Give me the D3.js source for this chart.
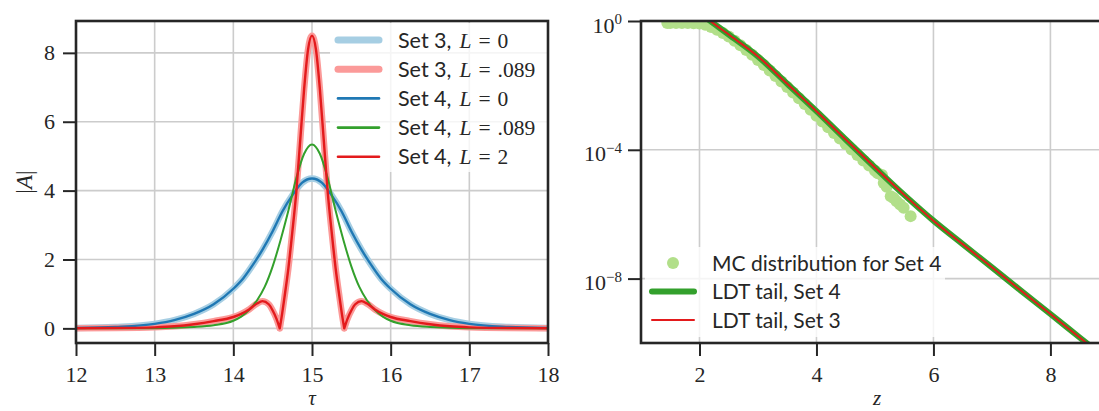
<!DOCTYPE html>
<html>
<head>
<meta charset="utf-8">
<script src="https://cdn.jsdelivr.net/npm/d3@7"></script>
<style>
  body { margin: 0; background: #fff; }
</style>
</head>
<body>
<svg id="fig" width="1099" height="411"></svg>
<script>
// ---------- left panel: pulse amplitude |A| versus tau ----------
const tauTicks = [12, 13, 14, 15, 16, 17, 18];
const ampTicks = [0, 2, 4, 6, 8];

// L = 0 profiles (Set 3 and Set 4 coincide)
const tauL0 = [12, 12.5, 13, 13.25, 13.5, 13.75, 14, 14.125, 14.25, 14.375, 14.5, 14.625, 14.75, 14.875, 15,
               15.125, 15.25, 15.375, 15.5, 15.625, 15.75, 15.875, 16, 16.25, 16.5, 16.75, 17, 17.5, 18];
const ampSet3L0 = [0.01, 0.04, 0.13, 0.24, 0.42, 0.70, 1.15, 1.45, 1.85, 2.30, 2.82, 3.40, 3.86, 4.23, 4.35,
                   4.23, 3.86, 3.40, 2.82, 2.30, 1.85, 1.45, 1.15, 0.70, 0.42, 0.24, 0.13, 0.04, 0.01];
const ampSet4L0 = [0.01, 0.04, 0.13, 0.24, 0.42, 0.70, 1.15, 1.45, 1.85, 2.30, 2.82, 3.40, 3.86, 4.23, 4.35,
                   4.23, 3.86, 3.40, 2.82, 2.30, 1.85, 1.45, 1.15, 0.70, 0.42, 0.24, 0.13, 0.04, 0.01];

// Set 4, L = .089
const tauSet4L089 = [12, 13, 13.5, 13.75, 14, 14.1, 14.2, 14.3, 14.4, 14.5, 14.6, 14.7, 14.8, 14.9, 15,
                     15.1, 15.2, 15.3, 15.4, 15.5, 15.6, 15.7, 15.8, 15.9, 16, 16.25, 16.5, 17, 18];
const ampSet4L089 = [0, 0.005, 0.04, 0.09, 0.22, 0.34, 0.53, 0.81, 1.21, 1.80, 2.56, 3.42, 4.36, 5.07, 5.34,
                     5.07, 4.36, 3.42, 2.56, 1.80, 1.21, 0.81, 0.53, 0.34, 0.22, 0.09, 0.04, 0.005, 0];

// Set 4, L = 2 and Set 3, L = .089 (coincide): central spike with two side lobes
const tauSpike = [12, 12.5, 13, 13.25, 13.5, 13.75, 14, 14.1, 14.2, 14.3, 14.37, 14.45, 14.5, 14.55, 14.59,
                  14.62, 14.65, 14.7, 14.75, 14.8, 14.85, 14.9, 14.95, 15,
                  15.05, 15.1, 15.15, 15.2, 15.25, 15.3, 15.35, 15.38, 15.41,
                  15.45, 15.5, 15.55, 15.63, 15.7, 15.8, 15.9, 16, 16.25, 16.5, 16.75, 17, 17.5, 18];
const ampSet3L089 = [0.005, 0.01, 0.03, 0.06, 0.12, 0.21, 0.33, 0.42, 0.55, 0.72, 0.79, 0.70, 0.52, 0.27, 0,
                     0.42, 0.90, 1.75, 2.80, 3.95, 5.45, 6.95, 8.10, 8.50,
                     8.10, 6.95, 5.45, 3.95, 2.80, 1.75, 0.90, 0.42, 0,
                     0.27, 0.52, 0.70, 0.79, 0.72, 0.55, 0.42, 0.33, 0.21, 0.12, 0.06, 0.03, 0.01, 0.005];
const ampSet4L2 = [0.005, 0.01, 0.03, 0.06, 0.12, 0.21, 0.33, 0.42, 0.55, 0.72, 0.79, 0.70, 0.52, 0.27, 0,
                   0.42, 0.90, 1.75, 2.80, 3.95, 5.45, 6.95, 8.10, 8.50,
                   8.10, 6.95, 5.45, 3.95, 2.80, 1.75, 0.90, 0.42, 0,
                   0.27, 0.52, 0.70, 0.79, 0.72, 0.55, 0.42, 0.33, 0.21, 0.12, 0.06, 0.03, 0.01, 0.005];

// ---------- right panel: tail probability versus z (log10 of probability) ----------
const zTicks = [2, 4, 6, 8];
const probTicks = [1, 1e-4, 1e-8];
const probTickExp = ["0", "\u22124", "\u22128"];

const mcZ = [1.45, 1.5, 1.6, 1.7, 1.8, 1.9, 2.0, 2.1, 2.2, 2.3, 2.4, 2.5, 2.6, 2.7, 2.8, 2.9, 3.0,
             3.1, 3.2, 3.3, 3.4, 3.5, 3.6, 3.7, 3.8, 3.9, 4.0, 4.1, 4.2, 4.3, 4.4, 4.5, 4.6, 4.7,
             4.8, 4.9, 5.0, 5.05, 5.12, 5.15, 5.2, 5.27, 5.32, 5.37, 5.43, 5.49, 5.61];
const mcLog10P = [-0.06, -0.06, -0.06, -0.06, -0.06, -0.07, -0.08, -0.12, -0.19, -0.27, -0.37, -0.48,
                  -0.61, -0.75, -0.90, -1.05, -1.21, -1.37, -1.54, -1.71, -1.88, -2.05, -2.22, -2.40,
                  -2.58, -2.76, -2.94, -3.12, -3.30, -3.48, -3.65, -3.82, -3.99, -4.16, -4.33, -4.49,
                  -4.65, -4.73, -4.78, -5.03, -5.15, -5.44, -5.50, -5.60, -5.70, -5.80, -6.06];

const ldtZ = [2.1, 2.2, 2.5, 3.0, 3.5, 4.0, 4.5, 5.0, 5.5, 6.0, 6.5, 7.0, 7.5, 8.0, 8.5, 8.7];
const ldtLog10Set4 = [0.12, -0.02, -0.42, -1.10, -1.95, -2.80, -3.68, -4.55, -5.40, -6.20, -6.93, -7.65,
                      -8.38, -9.10, -9.83, -10.12];
const ldtLog10Set3 = [0.12, -0.02, -0.42, -1.10, -1.95, -2.80, -3.68, -4.55, -5.40, -6.20, -6.93, -7.65,
                      -8.38, -9.10, -9.83, -10.12];

// ---------- drawing ----------
const ink = "#262626";
const gridCol = "#cccccc";
const serif = '"Liberation Serif", "DejaVu Serif", serif';
const sans = 'Lato, "Open Sans", "DejaVu Sans", sans-serif';
const tickFont = 22;

const svg = d3.select("#fig");
const defs = svg.append("defs");

const boxL = { x0: 76, x1: 548, y0: 21, y1: 343 };
const boxR = { x0: 641, x1: 1113, y0: 21, y1: 343 };

const xL = d3.scaleLinear().domain([12, 18]).range([boxL.x0, boxL.x1]);
const yL = d3.scaleLinear().domain([-0.425, 8.925]).range([boxL.y1, boxL.y0]);
const xR = d3.scaleLinear().domain([1, 9.07]).range([boxR.x0, boxR.x1]);
const yR = d3.scaleLog().domain([1e-10, 1]).range([boxR.y1, boxR.y0]);

function clipFor(id, b) {
  defs.append("clipPath").attr("id", id)
    .append("rect").attr("x", b.x0).attr("y", b.y0)
    .attr("width", b.x1 - b.x0).attr("height", b.y1 - b.y0);
}
clipFor("clipL", boxL);
clipFor("clipR", boxR);

function grid(g, b, xs, xVals, ys, yVals) {
  g.selectAll(".gx").data(xVals).join("line")
    .attr("class", "gx")
    .attr("x1", d => xs(d)).attr("x2", d => xs(d))
    .attr("y1", b.y0).attr("y2", b.y1)
    .attr("stroke", gridCol).attr("stroke-width", 1.6);
  g.selectAll(".gy").data(yVals).join("line")
    .attr("class", "gy")
    .attr("x1", b.x0).attr("x2", b.x1)
    .attr("y1", d => ys(d)).attr("y2", d => ys(d))
    .attr("stroke", gridCol).attr("stroke-width", 1.6);
}

function styleAxis(g) {
  g.select(".domain").remove();
  g.selectAll(".tick line").attr("stroke", ink).attr("stroke-width", 2);
  g.selectAll(".tick text")
    .attr("fill", ink)
    .style("font-family", serif)
    .style("font-size", tickFont + "px");
}

// split a profile at its interior zeros so the |A| cusps stay sharp
function zeroSplit(xs, ys) {
  const segs = [];
  let cur = [];
  xs.forEach((x, i) => {
    cur.push([x, ys[i]]);
    if (ys[i] === 0 && i > 0 && i < xs.length - 1) {
      segs.push(cur);
      cur = [[x, ys[i]]];
    }
  });
  segs.push(cur);
  return segs;
}

// ===== left panel =====
const gL = svg.append("g");
grid(gL.append("g"), boxL, xL, tauTicks, yL, ampTicks);

const lineL = d3.line().x(d => xL(d[0])).y(d => yL(d[1])).curve(d3.curveMonotoneX);
const seriesL = [
  { tau: tauL0, amp: ampSet3L0, color: "#a6cee3", width: 6.5 },
  { tau: tauSpike, amp: ampSet3L089, color: "#fb9a99", width: 6.5 },
  { tau: tauL0, amp: ampSet4L0, color: "#1f78b4", width: 2.4 },
  { tau: tauSet4L089, amp: ampSet4L089, color: "#33a02c", width: 2.0 },
  { tau: tauSpike, amp: ampSet4L2, color: "#e31a1c", width: 2.4 }
];
const dataL = gL.append("g").attr("clip-path", "url(#clipL)");
seriesL.forEach(s => {
  dataL.append("path")
    .attr("d", zeroSplit(s.tau, s.amp).map(seg => lineL(seg)).join(""))
    .attr("fill", "none")
    .attr("stroke", s.color)
    .attr("stroke-width", s.width)
    .attr("stroke-linejoin", "round")
    .attr("stroke-linecap", "round");
});

gL.append("g").attr("transform", `translate(0,${boxL.y1})`)
  .call(d3.axisBottom(xL).tickValues(tauTicks).tickSize(13).tickPadding(10).tickFormat(d3.format("d")))
  .call(styleAxis);
gL.append("g").attr("transform", `translate(${boxL.x0},0)`)
  .call(d3.axisLeft(yL).tickValues(ampTicks).tickSize(13).tickPadding(8).tickFormat(d3.format("d")))
  .call(styleAxis);

// left legend
const legL = gL.append("g");
legL.append("rect").attr("x", 330).attr("y", 23).attr("width", 217).attr("height", 149)
  .attr("fill", "#fff").attr("fill-opacity", 0.8);
const legRowsL = [
  { set: "Set 3,", val: "0", color: "#a6cee3", width: 7 },
  { set: "Set 3,", val: ".089", color: "#fb9a99", width: 7 },
  { set: "Set 4,", val: "0", color: "#1f78b4", width: 2.6 },
  { set: "Set 4,", val: ".089", color: "#33a02c", width: 2.6 },
  { set: "Set 4,", val: "2", color: "#e31a1c", width: 2.6 }
];
legRowsL.forEach((r, i) => {
  const cy = 40 + i * 29.2;
  legL.append("line").attr("x1", 338).attr("x2", 379).attr("y1", cy).attr("y2", cy)
    .attr("stroke", r.color).attr("stroke-width", r.width).attr("stroke-linecap", "round");
  const t = legL.append("text").attr("x", 398).attr("y", cy + 7.5).attr("fill", ink)
    .style("font-size", "21.5px");
  t.append("tspan").style("font-family", sans).text(r.set);
  t.append("tspan").attr("dx", 8).style("font-family", serif).style("font-style", "italic").text("L");
  t.append("tspan").attr("dx", 7).style("font-family", serif).text("=");
  t.append("tspan").attr("dx", 7).style("font-family", serif).text(r.val);
});

// left frame and axis labels
gL.append("rect").attr("x", boxL.x0).attr("y", boxL.y0)
  .attr("width", boxL.x1 - boxL.x0).attr("height", boxL.y1 - boxL.y0)
  .attr("fill", "none").attr("stroke", ink).attr("stroke-width", 2.6);

const yLab = gL.append("text")
  .attr("transform", `translate(24,${(boxL.y0 + boxL.y1) / 2}) rotate(-90)`)
  .attr("text-anchor", "middle").attr("dy", "0.35em")
  .attr("fill", ink).style("font-family", serif).style("font-size", "23px");
yLab.append("tspan").text("|");
yLab.append("tspan").style("font-style", "italic").text("A");
yLab.append("tspan").text("|");

gL.append("text").attr("x", (boxL.x0 + boxL.x1) / 2).attr("y", 405)
  .attr("text-anchor", "middle").attr("fill", ink)
  .style("font-family", serif).style("font-style", "italic").style("font-size", "21px")
  .text("\u03c4");

// ===== right panel =====
const gR = svg.append("g");
grid(gR.append("g"), boxR, xR, zTicks, yR, probTicks);

const dataR = gR.append("g").attr("clip-path", "url(#clipR)");
dataR.selectAll("circle").data(mcZ.map((z, i) => [z, Math.pow(10, mcLog10P[i])])).join("circle")
  .attr("cx", d => xR(d[0])).attr("cy", d => yR(d[1])).attr("r", 6)
  .attr("fill", "#b2df8a");

const lineR = d3.line().x(d => xR(d[0])).y(d => yR(d[1])).curve(d3.curveMonotoneX);
dataR.append("path")
  .attr("d", lineR(ldtZ.map((z, i) => [z, Math.pow(10, ldtLog10Set4[i])])))
  .attr("fill", "none").attr("stroke", "#33a02c").attr("stroke-width", 6);
dataR.append("path")
  .attr("d", lineR(ldtZ.map((z, i) => [z, Math.pow(10, ldtLog10Set3[i])])))
  .attr("fill", "none").attr("stroke", "#e31a1c").attr("stroke-width", 2);

gR.append("g").attr("transform", `translate(0,${boxR.y1})`)
  .call(d3.axisBottom(xR).tickValues(zTicks).tickSize(13).tickPadding(10).tickFormat(d3.format("d")))
  .call(styleAxis);
const axR = gR.append("g").attr("transform", `translate(${boxR.x0},0)`)
  .call(d3.axisLeft(yR).tickValues(probTicks).tickSize(13).tickPadding(6).tickFormat(() => ""))
  .call(styleAxis);
axR.selectAll(".tick text").attr("dy", "0.5em").each(function (d, i) {
  const t = d3.select(this);
  t.text(null);
  t.append("tspan").text("10");
  t.append("tspan").attr("dy", "-0.55em").style("font-size", "15px").text(probTickExp[i]);
});

// right legend
const legR = gR.append("g");
legR.append("rect").attr("x", 645).attr("y", 247).attr("width", 300).attr("height", 90)
  .attr("fill", "#fff").attr("fill-opacity", 0.8);
const legRowsR = [
  { label: "MC distribution for Set 4", kind: "dot" },
  { label: "LDT tail, Set 4", kind: "line", color: "#33a02c", width: 6 },
  { label: "LDT tail, Set 3", kind: "line", color: "#e31a1c", width: 2 }
];
legRowsR.forEach((r, i) => {
  const cy = 263 + i * 28.5;
  if (r.kind === "dot") {
    legR.append("circle").attr("cx", 673).attr("cy", cy).attr("r", 6).attr("fill", "#b2df8a");
  } else {
    legR.append("line").attr("x1", 652).attr("x2", 694).attr("y1", cy).attr("y2", cy)
      .attr("stroke", r.color).attr("stroke-width", r.width).attr("stroke-linecap", "round");
  }
  legR.append("text").attr("x", 712).attr("y", cy + 7.5).attr("fill", ink)
    .style("font-family", sans).style("font-size", "21px").text(r.label);
});

gR.append("rect").attr("x", boxR.x0).attr("y", boxR.y0)
  .attr("width", boxR.x1 - boxR.x0).attr("height", boxR.y1 - boxR.y0)
  .attr("fill", "none").attr("stroke", ink).attr("stroke-width", 2.6);

gR.append("text").attr("x", (boxR.x0 + boxR.x1) / 2).attr("y", 405)
  .attr("text-anchor", "middle").attr("fill", ink)
  .style("font-family", serif).style("font-style", "italic").style("font-size", "21px")
  .text("z");
</script>
</body>
</html>
